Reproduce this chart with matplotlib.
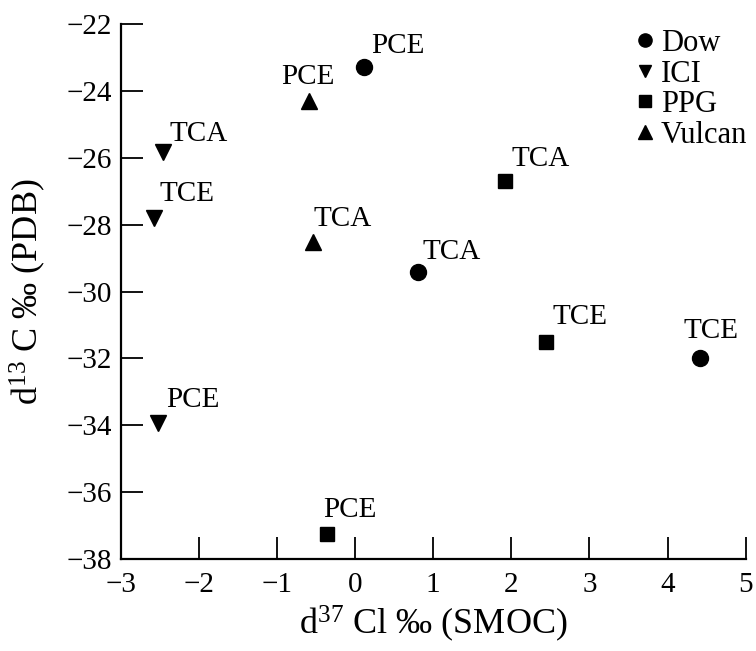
import matplotlib
matplotlib.use("Agg")
import matplotlib.pyplot as plt
from matplotlib.lines import Line2D

plt.rcParams['font.family'] = ['Liberation Serif', 'DejaVu Serif']
plt.rcParams['mathtext.fontset'] = 'custom'
plt.rcParams['mathtext.rm'] = 'Liberation Serif'
plt.rcParams['mathtext.it'] = 'Liberation Serif:italic'

# ---- data ----
companies = ['Dow', 'ICI', 'PPG', 'Vulcan']

dow_labels = ['PCE', 'TCA', 'TCE']
dow_x = [0.12, 0.80, 4.42]
dow_y = [-23.29, -29.41, -31.99]

ici_labels = ['TCA', 'TCE', 'PCE']
ici_x = [-2.46, -2.58, -2.52]
ici_y = [-25.82, -27.81, -33.92]

ppg_labels = ['TCA', 'TCE', 'PCE']
ppg_x = [1.92, 2.44, -0.36]
ppg_y = [-26.69, -31.50, -37.25]

vulcan_labels = ['PCE', 'TCA']
vulcan_x = [-0.59, -0.54]
vulcan_y = [-24.29, -28.51]

x_ticks = [-3, -2, -1, 0, 1, 2, 3, 4, 5]
y_ticks = [-38, -36, -34, -32, -30, -28, -26, -24, -22]

# ---- styling ----
markers = {'Dow': 'o', 'ICI': 'v', 'PPG': 's', 'Vulcan': '^'}
msizes = {'Dow': 11.5, 'ICI': 11.5, 'PPG': 10, 'Vulcan': 11}
leg_msizes = {'Dow': 9.5, 'ICI': 9.0, 'PPG': 8.5, 'Vulcan': 9.5}
offsets = {
    'Dow': [(7, 14), (5, 13), (-17, 20)],
    'ICI': [(7, 11), (6, 17), (8, 16)],
    'PPG': [(6, 15), (7, 18), (-4, 17)],
    'Vulcan': [(-28, 17), (1, 16)],
}

series = {
    'Dow': (dow_x, dow_y, dow_labels),
    'ICI': (ici_x, ici_y, ici_labels),
    'PPG': (ppg_x, ppg_y, ppg_labels),
    'Vulcan': (vulcan_x, vulcan_y, vulcan_labels),
}

fig = plt.figure(figsize=(7.56, 6.51), dpi=100)
ax = fig.add_axes([0.1597, 0.1413, 0.8267, 0.8218])

for name in companies:
    xs, ys, labs = series[name]
    ax.plot(xs, ys, linestyle='none', marker=markers[name], ms=msizes[name],
            color='black', clip_on=False)
    for x, y, lab, off in zip(xs, ys, labs, offsets[name]):
        ax.annotate(lab, (x, y), xytext=off, textcoords='offset pixels',
                    ha='left', va='baseline', fontsize=21)

ax.set_xlim(-3, 5)
ax.set_ylim(-38, -22)
ax.set_xticks(x_ticks)
ax.set_yticks(y_ticks)
ax.set_xticklabels([f'{t:d}'.replace('-', '\u2212') for t in x_ticks])
ax.set_yticklabels([f'{t:d}'.replace('-', '\u2212') for t in y_ticks])
ax.tick_params(direction='in', length=16, width=1.3, labelsize=21)
ax.tick_params(axis='x', pad=9)
ax.tick_params(axis='y', pad=6)

for s in ['top', 'right']:
    ax.spines[s].set_visible(False)
for s in ['left', 'bottom']:
    ax.spines[s].set_linewidth(1.6)

ax.set_xlabel(r'd$^{37}$ Cl ‰ (SMOC)', fontsize=26)
ax.set_ylabel(r'd$^{13}$ C ‰ (PDB)', fontsize=26)
ax.xaxis.set_label_coords(0.5, -0.1206)
ax.xaxis.label.set_va('center')
ax.yaxis.set_label_coords(-0.149, 0.5)
ax.yaxis.label.set_va('center')

handles = [Line2D([], [], linestyle='none', marker=markers[n], color='black',
                  ms=leg_msizes[n]) for n in companies]
leg = ax.legend(handles, companies, loc='upper right',
                bbox_to_anchor=(747 / 756, 1 - 29 / 651),
                bbox_transform=fig.transFigure, frameon=False,
                fontsize=22, handlelength=0.6, handletextpad=0.2,
                labelspacing=0.05, borderpad=0, borderaxespad=0)

fig.savefig('out.png', dpi=100)
